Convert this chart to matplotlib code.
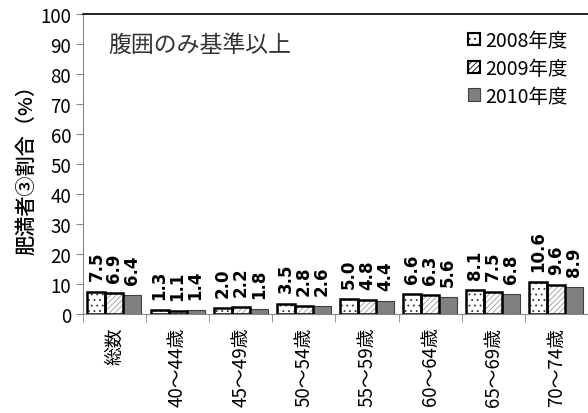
import numpy as np
import matplotlib
matplotlib.use("Agg")
import matplotlib.pyplot as plt
from matplotlib.patches import Patch

plt.rcParams['font.family'] = ['Noto Sans CJK JP', 'DejaVu Sans']
plt.rcParams['hatch.linewidth'] = 0.6

# data
categories = ["総数", "40～44歳", "45～49歳", "50～54歳", "55～59歳", "60～64歳", "65～69歳", "70～74歳"]
v2008 = [7.5, 1.3, 2.0, 3.5, 5.0, 6.6, 8.1, 10.6]
v2009 = [6.9, 1.1, 2.2, 2.8, 4.8, 6.3, 7.5, 9.6]
v2010 = [6.4, 1.4, 1.8, 2.6, 4.4, 5.6, 6.8, 8.9]
series_names = ["2008年度", "2009年度", "2010年度"]

fig = plt.figure(figsize=(5.88, 4.14), dpi=100)
ax = fig.add_axes([0.141, 0.239, 0.859, 0.725])

x = np.arange(len(categories))
w = 0.285
offs = [-w, 0, w]

# 2008: dotted
ax.bar(x + offs[0], v2008, w, color="white", edgecolor="#333333", hatch="...", linewidth=0, zorder=2)
ax.bar(x + offs[0], v2008, w, fill=False, edgecolor="black", linewidth=1.8, zorder=3)
# 2009: light diagonal lines
ax.bar(x + offs[1], v2009, w, color="white", edgecolor="#9a9a9a", hatch="//////", linewidth=0, zorder=2)
ax.bar(x + offs[1], v2009, w, fill=False, edgecolor="black", linewidth=1.8, zorder=3)
# 2010: gray
ax.bar(x + offs[2], v2010, w, color="#808080", edgecolor="#404040", linewidth=0.8, zorder=2)

for vals, o in zip([v2008, v2009, v2010], offs):
    for xi, v in zip(x, vals):
        ax.annotate(f"{v:.1f}", (xi + o, v), xytext=(0, 8), textcoords="offset points",
                    rotation=90, ha="center", va="bottom", fontsize=12, fontweight="bold",
                    family="DejaVu Sans")

ax.set_xlim(-0.5, len(categories) - 0.5)
ax.set_ylim(0, 100)
ax.set_yticks(np.arange(0, 101, 10))
ax.tick_params(axis="y", labelsize=13.5, color="#888888", length=5)

ax.set_xticks(x)
ax.set_xticklabels(categories, rotation=90, fontsize=13.5, va="top", ha="center")
ax.set_xticks(np.arange(-0.5, len(categories), 1), minor=True)
ax.tick_params(axis="x", which="major", length=0, pad=9)
ax.tick_params(axis="x", which="minor", length=6, color="#888888")

ax.spines["right"].set_visible(False)
ax.spines["left"].set_color("#888888")
ax.spines["bottom"].set_color("#888888")
ax.spines["top"].set_color("black")
ax.spines["top"].set_linewidth(1.2)

ax.set_ylabel("肥満者③割合（%）", fontsize=14.5, fontweight="medium", labelpad=3)

ax.text(0.05, 0.9, "腹囲のみ基準以上", transform=ax.transAxes, fontsize=16.5,
        ha="left", va="center", color="#333333")

handles = [
    Patch(facecolor="white", edgecolor="black", hatch="...", linewidth=1.5),
    Patch(facecolor="white", edgecolor="black", hatch="//////", linewidth=1.5),
    Patch(facecolor="#808080", edgecolor="#404040", linewidth=0.8),
]
ax.legend(handles, series_names, loc="upper right", bbox_to_anchor=(0.995, 1.005), frameon=False,
          fontsize=14, handlelength=0.6, handleheight=0.6, handletextpad=0.3, labelspacing=0.35)

fig.savefig("out.png", dpi=100)
